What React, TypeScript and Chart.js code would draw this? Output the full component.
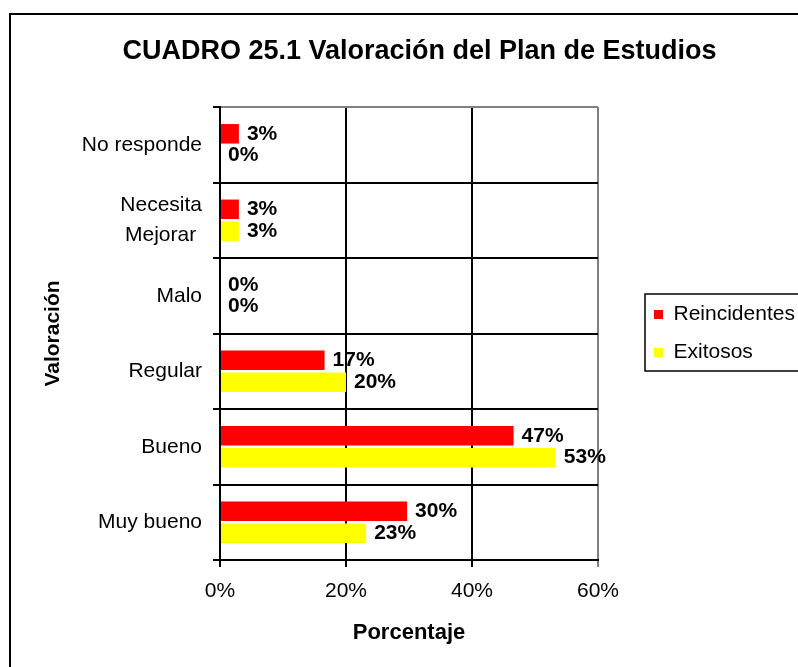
import React, { useEffect, useRef } from "react";
import { Chart, registerables } from "chart.js";

Chart.register(...registerables);

const categories: (string | string[])[] = [
  "No responde",
  ["Necesita", "Mejorar "],
  "Malo",
  "Regular",
  "Bueno",
  "Muy bueno",
];
const reincidentes = [3, 3, 0, 16.6, 46.6, 29.7];
const exitosos = [0, 3, 0, 20, 53.3, 23.2];
const xTicks = [0, 20, 40, 60];
const seriesNames = ["Reincidentes", "Exitosos"];
const seriesColors = ["#FF0000", "#FFFF00"];
const chartTitle = "CUADRO 25.1 Valoración del Plan de Estudios";
const xTitle = "Porcentaje";
const yTitle = "Valoración";

const FONT = "'Liberation Sans', Arial, Helvetica, sans-serif";

const framePlugin = {
  id: "framePlugin",
  beforeDraw(chart: any) {
    const ctx = chart.ctx;
    ctx.save();
    ctx.fillStyle = "#ffffff";
    ctx.fillRect(0, 0, chart.width, chart.height);
    ctx.restore();
  },
  afterDraw(chart: any) {
    const ctx = chart.ctx;
    ctx.save();
    ctx.strokeStyle = "#000000";
    ctx.lineWidth = 2;
    ctx.strokeRect(10, 14, chart.width + 50, chart.height + 50);
    const lg = chart.legend;
    if (lg && lg.legendHitBoxes && lg.legendHitBoxes.length) {
      const hb = lg.legendHitBoxes;
      const first = hb[0];
      const last = hb[hb.length - 1];
      const left = first.left - 9;
      const top = first.top - 10;
      const bottom = last.top + last.height + 8;
      ctx.lineWidth = 1.5;
      ctx.strokeRect(left, top, chart.width + 20 - left, bottom - top);
    }
    ctx.restore();
  },
};

const labelPlugin = {
  id: "labelPlugin",
  afterDatasetsDraw(chart: any) {
    const ctx = chart.ctx;
    ctx.save();
    ctx.font = `bold 21px ${FONT}`;
    ctx.fillStyle = "#000000";
    ctx.textAlign = "left";
    ctx.textBaseline = "middle";
    chart.data.datasets.forEach((ds: any, di: number) => {
      const meta = chart.getDatasetMeta(di);
      meta.data.forEach((el: any, i: number) => {
        const v = ds.data[i] as number;
        ctx.fillText(`${Math.round(v)}%`, el.x + 8, el.y);
      });
    });
    ctx.restore();
  },
};

export default function App() {
  const ref = useRef<HTMLCanvasElement>(null);
  useEffect(() => {
    if (!ref.current) return;
    Chart.defaults.font.family = FONT;
    Chart.defaults.color = "#000000";
    const chart = new Chart(ref.current, {
      type: "bar",
      data: {
        labels: categories as any,
        datasets: [
          {
            label: seriesNames[0],
            data: reincidentes,
            backgroundColor: seriesColors[0],
            borderWidth: 0,
            categoryPercentage: 0.58,
            barPercentage: 0.89,
          },
          {
            label: seriesNames[1],
            data: exitosos,
            backgroundColor: seriesColors[1],
            borderWidth: 0,
            categoryPercentage: 0.58,
            barPercentage: 0.89,
          },
        ],
      },
      options: {
        indexAxis: "y",
        responsive: false,
        animation: false,
        devicePixelRatio: 1,
        layout: { padding: { left: 41, right: 0, top: 0, bottom: 0 } },
        plugins: {
          title: {
            display: true,
            text: chartTitle,
            color: "#000000",
            font: { size: 27, weight: "bold", family: FONT },
            padding: { top: 35.3, bottom: 39.3 },
          },
          legend: {
            display: true,
            position: "right",
            maxWidth: 161,
            labels: {
              color: "#000000",
              font: { size: 21, family: FONT },
              boxWidth: 9,
              boxHeight: 9,
              padding: 17,
            },
          },
          tooltip: { enabled: false },
        },
        scales: {
          x: {
            type: "linear",
            position: "bottom",
            min: 0,
            max: 60,
            afterBuildTicks: (s: any) => {
              s.ticks = xTicks.map((v) => ({ value: v }));
            },
            afterFit: (s: any) => {
              s.height = 107;
            },
            ticks: {
              callback: (v: any) => `${v}%`,
              color: "#000000",
              font: { size: 21, family: FONT },
              padding: 12,
            },
            grid: {
              color: (c: any) => (c.index === xTicks.length - 1 ? "#808080" : "#000000"),
              tickColor: (c: any) => (c.index === xTicks.length - 1 ? "#808080" : "#000000"),
              lineWidth: 2,
              tickLength: 7,
            },
            border: { color: "#000000", width: 2, z: 1 },
            title: {
              display: true,
              text: xTitle,
              color: "#000000",
              font: { size: 22, weight: "bold", family: FONT },
              padding: { top: 0, bottom: 20.6 },
            },
          },
          y: {
            type: "category",
            position: "left",
            afterFit: (s: any) => {
              s.width = 179;
            },
            ticks: {
              color: "#000000",
              font: { size: 21, family: FONT, lineHeight: 1.4 },
              padding: 11,
            },
            grid: {
              offset: true,
              color: (c: any) => (c.index === 0 ? "#808080" : "#000000"),
              tickColor: "#000000",
              lineWidth: 2,
              tickLength: 7,
            },
            border: { color: "#000000", width: 2, z: 1 },
            title: {
              display: true,
              text: yTitle,
              color: "#000000",
              font: { size: 21, weight: "bold", family: FONT },
              padding: { top: 0, bottom: 0 },
            },
          },
          y2: {
            type: "category",
            position: "right",
            labels: [""],
            afterFit: (s: any) => {
              s.width = 39;
            },
            ticks: { display: false },
            grid: { display: false, drawTicks: false },
            border: { display: false },
          },
        },
      } as any,
      plugins: [framePlugin, labelPlugin],
    });
    return () => chart.destroy();
  }, []);
  return (
    <canvas
      ref={ref}
      width={798}
      height={667}
      style={{ position: "absolute", left: 0, top: 0, width: 798, height: 667 }}
    />
  );
}
